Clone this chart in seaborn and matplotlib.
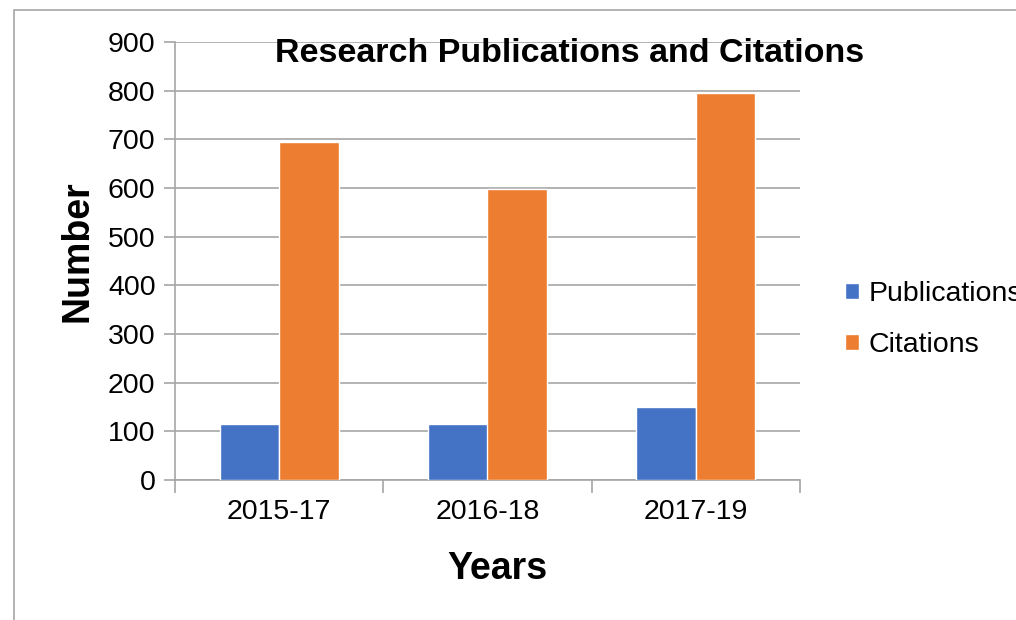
import numpy as np
import pandas as pd
import matplotlib
matplotlib.use("Agg")
import matplotlib.pyplot as plt
from matplotlib.patches import Rectangle
import seaborn as sns

# chart data
years = ["2015-17", "2016-18", "2017-19"]
publications = [115, 115, 150]
citations = [695, 597, 795]
series_names = ["Publications", "Citations"]
series_colors = ["#4472C4", "#ED7D31"]

df = pd.DataFrame({
    "Years": years * 2,
    "Number": publications + citations,
    "Series": [series_names[0]] * len(years) + [series_names[1]] * len(years),
})

sns.set_theme(style="white")
plt.rcParams["font.family"] = ["Liberation Sans", "DejaVu Sans"]
plt.rcParams["text.color"] = "black"
plt.rcParams["axes.labelcolor"] = "black"
plt.rcParams["xtick.color"] = "black"
plt.rcParams["ytick.color"] = "black"

fig = plt.figure(figsize=(10.16, 6.2), dpi=100)
ax = fig.add_axes([175 / 1016, 1 - 480 / 620, 625 / 1016, 438 / 620])

sns.barplot(
    data=df, x="Years", y="Number", hue="Series",
    palette=series_colors, width=0.57, saturation=1,
    ax=ax, zorder=3,
)

grid_col = "#A6A6A6"
ax.set_ylim(0, 900)
ax.set_xlim(-0.5, len(years) - 0.5)
ax.set_yticks(np.arange(0, 901, 100))
ax.yaxis.grid(True, color=grid_col, linewidth=1.2, zorder=0)
ax.set_axisbelow(True)

for side in ["top", "right"]:
    ax.spines[side].set_visible(False)
for side in ["left", "bottom"]:
    ax.spines[side].set_color(grid_col)
    ax.spines[side].set_linewidth(1.2)

ax.tick_params(axis="y", which="major", length=8, width=1.2, color=grid_col,
               labelcolor="black", labelsize=20.5, pad=6, left=True)
ax.tick_params(axis="x", which="major", length=0, labelsize=20.5, pad=14,
               labelcolor="black")
ax.set_xticks(np.arange(-0.5, len(years), 1.0), minor=True)
ax.tick_params(axis="x", which="minor", length=9, width=1.2, color=grid_col,
               bottom=True)

ax.set_xlabel("Years", fontsize=27, fontweight="bold")
ax.xaxis.set_label_coords((497 - 175) / 625, -0.163)
ax.set_ylabel("Number", fontsize=27, fontweight="bold")
ax.yaxis.set_label_coords(-0.128, (480 - 251) / 438)

fig.text(570 / 1016, 1 - 53 / 620, "Research Publications and Citations",
         fontsize=24.5, fontweight="bold", ha="center", va="center")

leg = ax.legend(loc="center left", bbox_to_anchor=(1.031, 0.367), frameon=False,
                fontsize=20.5, handlelength=0.5, handleheight=0.5,
                handletextpad=0.32, labelspacing=0.88)

# outer chart border (partly cropped)
fig.add_artist(Rectangle((14 / 1016, -0.1), 1.2, 1 - 10 / 620 + 0.1,
                         transform=fig.transFigure, fill=False,
                         edgecolor=grid_col, linewidth=1.2))

fig.savefig("out.png", dpi=100)
